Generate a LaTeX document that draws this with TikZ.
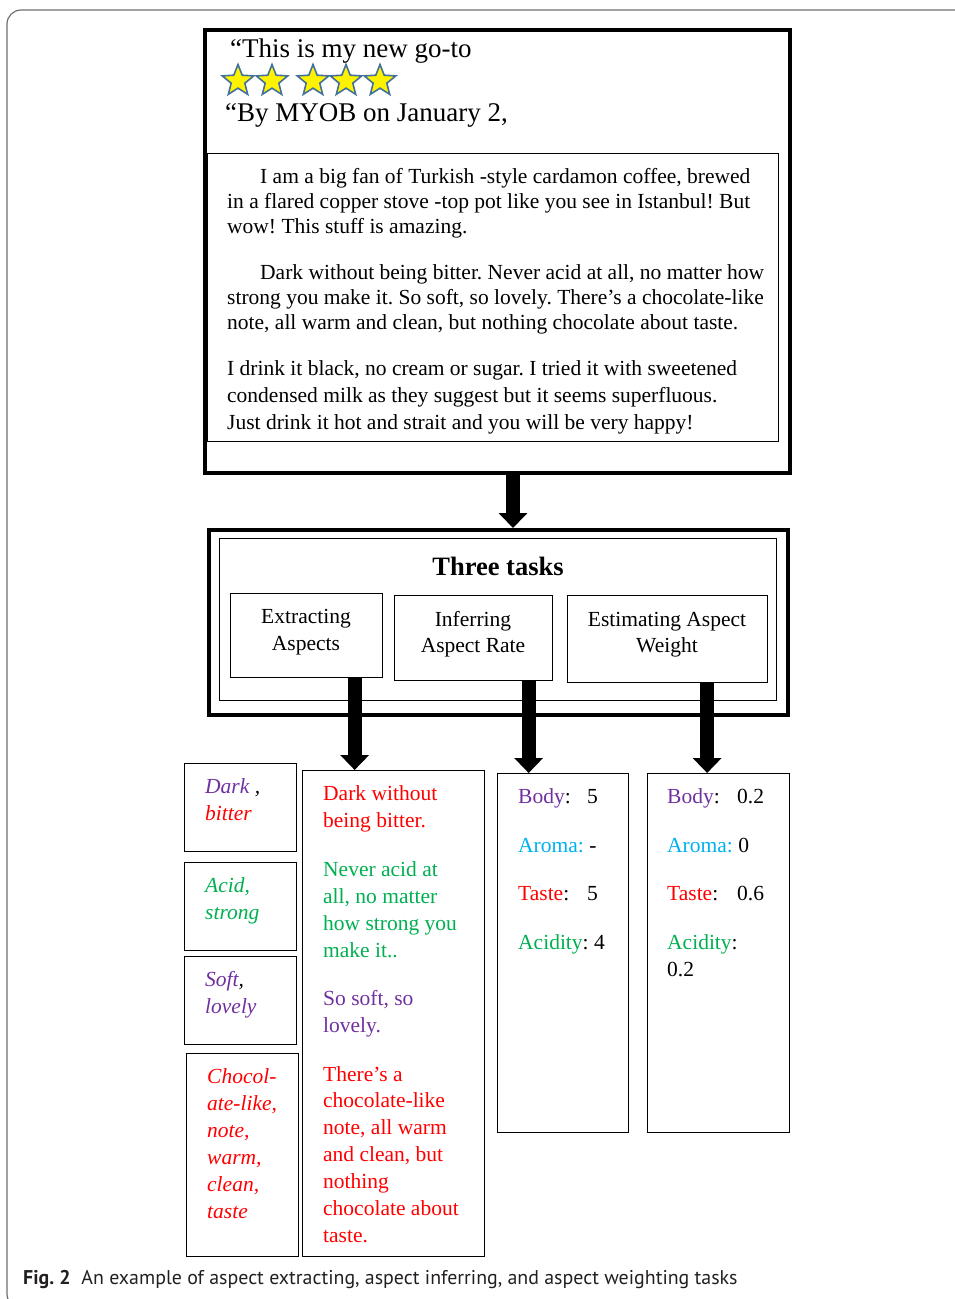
\documentclass[tikz,border=0pt]{standalone}
\usepackage{fontspec}
\setmainfont{Liberation Serif}
\newfontfamily\capfont{PT Sans}
\usetikzlibrary{shapes.geometric,arrows.meta,calc}
\definecolor{apurple}{HTML}{7030A0}
\definecolor{ared}{HTML}{FF0000}
\definecolor{agreen}{HTML}{00B050}
\definecolor{acyan}{HTML}{00B0F0}
\definecolor{starblue}{HTML}{41719C}
\definecolor{framegray}{HTML}{6E6E6E}
\definecolor{captext}{HTML}{231F20}
\frenchspacing
\tikzset{
  thickbox/.style={draw, line width=4pt, anchor=north west, inner sep=0pt},
  thinbox/.style={draw, line width=1.3pt, anchor=north west, inner sep=0pt},
  body/.style={anchor=base west, inner sep=0pt, font=\fontsize{21.5}{25}\selectfont},
  itbody/.style={body, font=\fontsize{21.5}{25}\selectfont\itshape},
  ctr/.style={anchor=base, inner sep=0pt, font=\fontsize{21.5}{25}\selectfont},
  hdr/.style={anchor=base west, inner sep=0pt, font=\fontsize{27}{30}\selectfont},
  staricon/.style={star, star points=5, star point ratio=2.3, minimum size=33pt, inner sep=0pt,
    fill=yellow, draw=starblue, line width=1.6pt},
  bigarrow/.style={line width=14pt, -{Triangle[length=15pt,width=28pt]}},
}
\begin{document}
\begin{tikzpicture}[x=1pt,y=-1pt]
\useasboundingbox (0,0) rectangle (955,1299);
\begin{scope}
  \clip (0,0) rectangle (955,1299);
  \draw[framegray, line width=1.2pt, rounded corners=14pt] (7,10) rectangle (980,1308);
\end{scope}

% review box
\node[thickbox, minimum width=585pt, minimum height=443pt] (review) at (203,28) {};
\node[hdr] (title) at (230,57) {“This is my new go-to};
\foreach \x [count=\i] in {238,272,313,346,380}
  \node[staricon] (star\i) at (\x,81) {};
\node[hdr] (byline) at (225,121) {“By MYOB on January 2,};

\node[thinbox, minimum width=571pt, minimum height=288pt] (reviewtext) at (207,153) {};
\node[body] (p1a) at (260,183) {I am a big fan of Turkish -style cardamon coffee, brewed};
\node[body] (p1b) at (227,208) {in a flared copper stove -top pot like you see in Istanbul! But};
\node[body] (p1c) at (227,233) {wow! This stuff is amazing.};
\node[body] (p2a) at (260,279) {Dark without being bitter. Never acid at all, no matter how};
\node[body] (p2b) at (227,304) {strong you make it. So soft, so lovely. There’s a chocolate-like};
\node[body] (p2c) at (227,329) {note, all warm and clean, but nothing chocolate about taste.};
\node[body] (p3a) at (227,375) {I drink it black, no cream or sugar. I tried it with sweetened};
\node[body] (p3b) at (227,402) {condensed milk as they suggest but it seems superfluous.};
\node[body] (p3c) at (227,429) {Just drink it hot and strait and you will be very happy!};

% tasks box
\node[thickbox, minimum width=579pt, minimum height=185pt] (tasks) at (207,528) {};
\node[thinbox, minimum width=557pt, minimum height=162pt] (tasksin) at (219,538) {};
\node[anchor=base, inner sep=0pt, font=\fontsize{26.5}{30}\selectfont\bfseries] (tasktitle) at (498,575) {Three tasks};
\node[thinbox, minimum width=152pt, minimum height=84pt] (ext) at (230,593) {};
\node[ctr] (extA) at (306,623) {Extracting};
\node[ctr] (extB) at (306,650) {Aspects};
\node[thinbox, minimum width=158pt, minimum height=85pt] (inf) at (394,595) {};
\node[ctr] (infA) at (473,626) {Inferring};
\node[ctr] (infB) at (473,652) {Aspect Rate};
\node[thinbox, minimum width=200pt, minimum height=87pt] (est) at (567,595) {};
\node[ctr] (estA) at (667,626) {Estimating Aspect};
\node[ctr] (estB) at (667,652) {Weight};

% left aspect boxes
\node[thinbox, minimum width=112pt, minimum height=88pt] (l1) at (184,763) {};
\node[itbody] (l1a) at (205,793) {\textcolor{apurple}{Dark} ,};
\node[itbody, text=ared] (l1b) at (205,820) {bitter};
\node[thinbox, minimum width=112pt, minimum height=88pt] (l2) at (184,862) {};
\node[itbody, text=agreen] (l2a) at (205,892) {Acid,};
\node[itbody, text=agreen] (l2b) at (205,919) {strong};
\node[thinbox, minimum width=112pt, minimum height=88pt] (l3) at (184,956) {};
\node[itbody] (l3a) at (205,986) {\textcolor{apurple}{Soft},};
\node[itbody, text=apurple] (l3b) at (205,1013) {lovely};
\node[thinbox, minimum width=112pt, minimum height=203pt] (l4) at (186,1053) {};
\foreach \y/\t [count=\i] in {1083/Chocol-,1110/{ate-like,},1137/{note,},1164/{warm,},1191/{clean,},1218/taste}
  \node[itbody, text=ared] (l4\i) at (207,\y) {\t};

% middle sentences box
\node[thinbox, minimum width=182pt, minimum height=486pt] (mid) at (302,770) {};
\foreach \y/\t [count=\i] in {800/Dark without,827/being bitter.}
  \node[body, text=ared] (ma\i) at (323,\y) {\t};
\foreach \y/\t [count=\i] in {876/Never acid at,903/{all, no matter},930/how strong you,957/make it..}
  \node[body, text=agreen] (mb\i) at (323,\y) {\t};
\foreach \y/\t [count=\i] in {1005/{So soft, so},1032/lovely.}
  \node[body, text=apurple] (mc\i) at (323,\y) {\t};
\foreach \y/\t [count=\i] in {1081/There’s a,1107/chocolate-like,1134/{note, all warm},1161/{and clean, but},1188/nothing,1215/chocolate about,1242/taste.}
  \node[body, text=ared] (md\i) at (323,\y) {\t};

% rates box
\node[thinbox, minimum width=131pt, minimum height=359pt] (rate) at (497,773) {};
\node[body] (rb) at (518,803) {\textcolor{apurple}{Body}:};
\node[body] (rbv) at (587,803) {5};
\node[body] (ra) at (518,852) {\textcolor{acyan}{Aroma:} -};
\node[body] (rt) at (518,900) {\textcolor{ared}{Taste}:};
\node[body] (rtv) at (587,900) {5};
\node[body] (rc) at (518,949) {\textcolor{agreen}{Acidity}: 4};

% weights box
\node[thinbox, minimum width=142pt, minimum height=359pt] (wt) at (647,773) {};
\node[body] (wb) at (667,803) {\textcolor{apurple}{Body}:};
\node[body] (wbv) at (737,803) {0.2};
\node[body] (wa) at (667,852) {\textcolor{acyan}{Aroma:} 0};
\node[body] (wtt) at (667,900) {\textcolor{ared}{Taste}:};
\node[body] (wtv) at (737,900) {0.6};
\node[body] (wc) at (667,949) {\textcolor{agreen}{Acidity}:};
\node[body] (wcv) at (667,976) {0.2};

% arrows
\draw[bigarrow] ([xshift=15.5pt]review.south) coordinate (a1s) -- (a1s |- tasks.north);
\draw[bigarrow] ([xshift=48pt]ext.south) coordinate (a2s) -- (a2s |- mid.north);
\draw[bigarrow] ([xshift=55pt]inf.south) coordinate (a3s) -- (a3s |- rate.north);
\draw[bigarrow] ([xshift=39.5pt]est.south) coordinate (a4s) -- (a4s |- wt.north);

% caption
\node[anchor=base west, inner sep=0pt, text=captext, font=\capfont\fontsize{19.9}{22}\selectfont] (caption) at (23,1284)
  {\textbf{Fig. 2}\hspace{0.55em}An example of aspect extracting, aspect inferring, and aspect weighting tasks};
\end{tikzpicture}
\end{document}
